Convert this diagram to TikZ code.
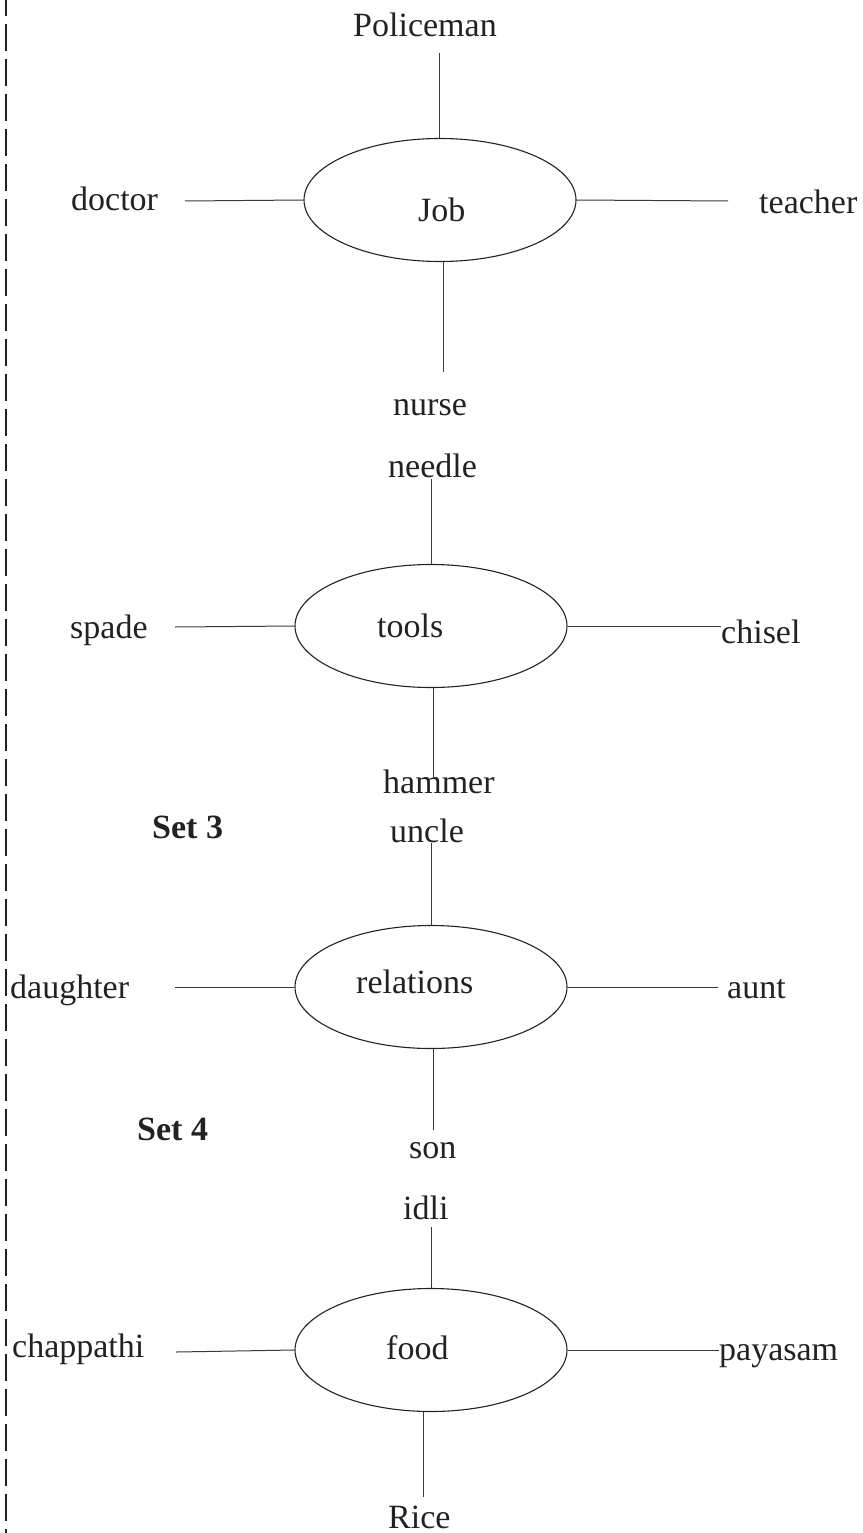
\documentclass[tikz,border=0pt]{standalone}
\usepackage{fontspec}
\setmainfont{Liberation Serif}
\usetikzlibrary{shapes.geometric}
\definecolor{ink}{HTML}{222222}
\definecolor{linec}{HTML}{3A3A3A}
\tikzset{
  word/.style={anchor=base west, inner sep=0pt, text=ink, font=\fontsize{34}{40}\selectfont},
  boldword/.style={word, font=\fontsize{34}{40}\selectfont\bfseries},
  oval/.style={ellipse, draw=ink, line width=1.1pt, minimum width=272pt, minimum height=123pt, inner sep=0pt},
  conn/.style={draw=linec, line width=1pt},
}
\begin{document}
\begin{tikzpicture}[x=1pt, y=-1pt]
\useasboundingbox (0,0) rectangle (862,1533);
% dashed margin line
\coordinate (dTop) at (6,0);
\coordinate (dBot) at (6,1533);
\draw[ink, line width=2.6pt, dash pattern=on 27pt off 8pt, dash phase=11pt] (dTop) -- (dBot);

% ---------- Job ----------
\node[oval] (job) at (440,200) {};
\node[word] (jobt) at (418,222) {Job};
\node[word] (police) at (353,37) {Policeman};
\node[word] (doctor) at (71,211) {doctor};
\node[word] (teacher) at (759,213) {teacher};
\node[word] (nurse) at (393,415) {nurse};
\coordinate (jN) at (439,53);
\coordinate (jW) at (185,201);
\coordinate (jE) at (728,201);
\coordinate (jS) at (443,372);
\draw[conn] (jN) -- (jN |- job.north);
\draw[conn] (jW) -- (job.west);
\draw[conn] (jE) -- (job.east);
\draw[conn] (jS) -- (jS |- job.south);

% ---------- tools ----------
\node[oval] (tools) at (431,626) {};
\node[word] (toolst) at (377,637) {tools};
\node[word] (needle) at (388,477) {needle};
\node[word] (spade) at (70,638) {spade};
\node[word] (chisel) at (721,643) {chisel};
\node[word] (hammer) at (383,793) {hammer};
\coordinate (tN) at (431,479);
\coordinate (tW) at (175,627);
\coordinate (tS) at (433,777);
\draw[conn] (tN) -- (tools.north);
\draw[conn] (tW) -- (tools.west);
\draw[conn] (tools.east) -- (chisel.west |- tools.east);
\draw[conn] (tS) -- (tS |- tools.south);

% ---------- Set 3 : relations ----------
\node[boldword] (set3) at (152,838) {Set 3};
\node[oval] (rel) at (431,987) {};
\node[word] (relt) at (356,993) {relations};
\node[word] (uncle) at (390,842) {uncle};
\node[word] (daughter) at (10,998) {daughter};
\node[word] (aunt) at (727,998) {aunt};
\node[word] (son) at (409,1158) {son};
\coordinate (rN) at (431,843);
\coordinate (rW) at (175,987);
\coordinate (rE) at (718,987);
\coordinate (rS) at (433,1130);
\draw[conn] (rN) -- (rel.north);
\draw[conn] (rW) -- (rel.west);
\draw[conn] (rE) -- (rel.east);
\draw[conn] (rS) -- (rS |- rel.south);

% ---------- Set 4 : food ----------
\node[boldword] (set4) at (137,1140) {Set 4};
\node[oval] (food) at (431,1350) {};
\node[word] (foodt) at (386,1359) {food};
\node[word] (idli) at (403,1219) {idli};
\node[word] (chap) at (12,1357) {chappathi};
\node[word] (paya) at (719,1360) {payasam};
\node[word] (rice) at (388,1528) {Rice};
\coordinate (fN) at (431,1227);
\coordinate (fW) at (176,1352);
\coordinate (fS) at (423,1497);
\draw[conn] (fN) -- (food.north);
\draw[conn] (fW) -- (food.west);
\draw[conn] (food.east) -- (paya.west |- food.east);
\draw[conn] (fS) -- (fS |- food.south);
\end{tikzpicture}
\end{document}
